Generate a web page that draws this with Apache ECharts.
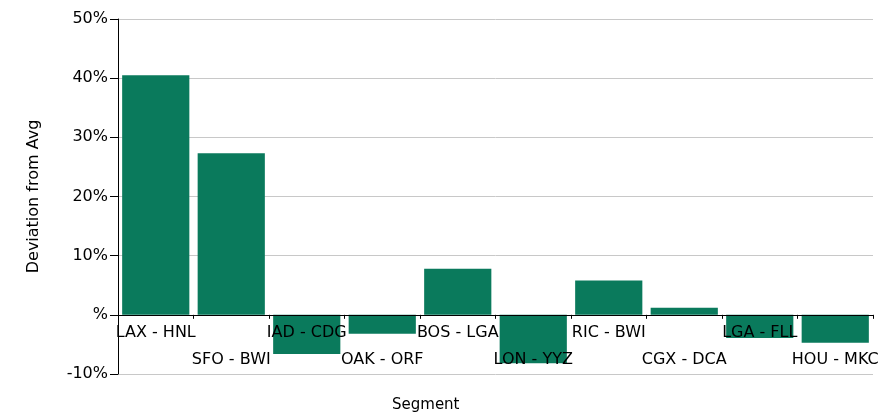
<!DOCTYPE html>
<html>
<head>
<meta charset="utf-8">
<script src="https://cdn.jsdelivr.net/npm/echarts@6/dist/echarts.min.js"></script>
<style>html,body{margin:0;padding:0;background:#fff}#c{width:889px;height:420px}</style>
</head>
<body>
<div id="c"></div>
<script>
// Segment deviation from the average, in percent
const segments = ['LAX - HNL', 'SFO - BWI', 'IAD - CDG', 'OAK - ORF', 'BOS - LGA', 'LON - YYZ', 'RIC - BWI', 'CGX - DCA', 'LGA - FLL', 'HOU - MKC'];
const deviation = [40.5, 27.3, -6.6, -3.2, 7.8, -8.2, 5.8, 1.2, -3.9, -4.7];
const yMin = -10, yMax = 50, yStep = 10;

const font = 'DejaVu Sans, Verdana, sans-serif';
// distance in px from the zero line down to the plot's bottom edge
const plotTop = 19, plotBottom = 46, plotH = 420 - plotTop - plotBottom;
const zeroDrop = plotH * (0 - yMin) / (yMax - yMin);

const chart = echarts.init(document.getElementById('c'));
chart.setOption({
  animation: false,
  grid: { left: 118, right: 16, top: plotTop, bottom: plotBottom, containLabel: false, outerBoundsMode: 'none' },
  xAxis: {
    type: 'category',
    data: segments,
    z: 5,
    axisLine: { onZero: true, lineStyle: { color: '#000', width: 1 } },
    axisTick: { show: true, length: 4, inside: false, lineStyle: { color: '#000' } },
    axisLabel: {
      interval: 0,
      hideOverlap: false,
      color: '#000',
      fontFamily: font,
      fontSize: 16,
      lineHeight: 27,
      // labels hang from the zero line
      margin: 5 - zeroDrop,
      formatter: (v, i) => (i % 2 ? '\n' + v : v)
    }
  },
  yAxis: {
    type: 'value',
    min: yMin, max: yMax, interval: yStep,
    name: 'Deviation from Avg',
    nameLocation: 'middle',
    nameGap: 76,
    nameTextStyle: { color: '#000', fontFamily: font, fontSize: 16 },
    axisLine: { show: true, lineStyle: { color: '#000' } },
    axisTick: { show: true, length: 8, lineStyle: { color: '#000' } },
    axisLabel: {
      color: '#000', fontFamily: font, fontSize: 16, margin: 10,
      formatter: v => (v === 0 ? '%' : v + '%')
    },
    splitLine: { show: true, lineStyle: { color: '#c8c8c8', width: 1 } }
  },
  graphic: [{
    type: 'text', left: 392, top: 398,
    style: { text: 'Segment', fill: '#000', font: '15px ' + font }
  }],
  series: [{
    type: 'bar',
    data: deviation,
    barCategoryGap: '11%',
    itemStyle: { color: '#0a7a5c' }
  }]
});
</script>
</body>
</html>
